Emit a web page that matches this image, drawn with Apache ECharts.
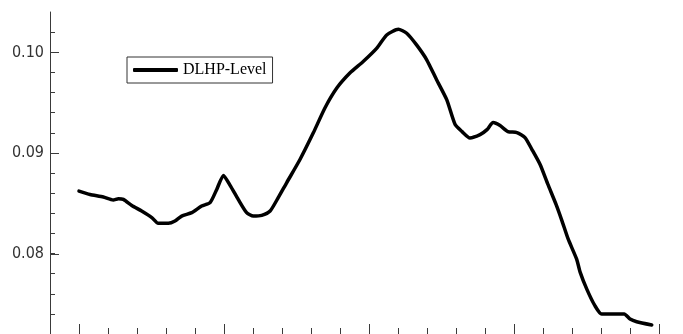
<!DOCTYPE html>
<html>
<head>
<meta charset="utf-8">
<style>
  html, body { margin: 0; padding: 0; background: #fff; }
  #chart { width: 683px; height: 334px; }
</style>
<script src="https://cdn.jsdelivr.net/npm/echarts@6/dist/echarts.min.js"></script>
</head>
<body>
<div id="chart"></div>
<script>
// Horizontal position (one unit per minor tick, major ticks every 5 units)
const xPos = [
  0, 0.38, 0.84, 1.18, 1.36, 1.53, 1.82, 2.16, 2.51, 2.73,
  3.08, 3.31, 3.54, 3.89, 4.23, 4.52, 4.75, 4.98, 5.21, 5.49,
  5.78, 6.01, 6.30, 6.59, 6.87, 7.16, 7.62, 8.08, 8.48, 8.89,
  9.34, 9.80, 10.27, 10.61, 11.01, 11.30, 11.64, 11.99, 12.33, 12.68,
  12.97, 13.20, 13.48, 13.83, 14.07, 14.28, 14.52, 14.79, 15.10, 15.38,
  15.62, 15.90, 16.17, 16.45, 16.66, 16.87, 17.16, 17.28, 17.51, 17.79,
  18.02, 18.80, 19.00, 19.23, 19.75
];

// DLHP level
const dlhpLevel = [
  0.08620, 0.08587, 0.08561, 0.08531, 0.08545, 0.08538, 0.08478, 0.08422, 0.08357, 0.08300,
  0.08300, 0.08323, 0.08372, 0.08406, 0.08472, 0.08505, 0.08637, 0.08776, 0.08677, 0.08538,
  0.08406, 0.08372, 0.08379, 0.08422, 0.08555, 0.08703, 0.08934, 0.09199, 0.09446, 0.09644,
  0.09793, 0.09908, 0.10041, 0.10172, 0.10229, 0.10189, 0.10073, 0.09925, 0.09727, 0.09529,
  0.09281, 0.09214, 0.09149, 0.09182, 0.09231, 0.09301, 0.09271, 0.09212, 0.09202, 0.09152,
  0.09033, 0.08884, 0.08686, 0.08488, 0.08320, 0.08142, 0.07944, 0.07815, 0.07646, 0.07481,
  0.07399, 0.07399, 0.07349, 0.07322, 0.07290
];

const seriesName = 'DLHP-Level';
const yLabelValues = [0.08, 0.09, 0.10];

const axisColor = '#3a3a3a';
const labelFont = "'DejaVu Sans Condensed', 'Liberation Sans Narrow', 'DejaVu Sans', sans-serif";

// plot frame geometry
const plotLeft = 50, plotTop = 12, plotWidth = 609, plotHeight = 323;
const yMin = 0.072, yMax = 0.104;
const pxPerUnit = plotHeight / (yMax - yMin);

const chart = echarts.init(document.getElementById('chart'), null, { renderer: 'canvas' });

const hiddenAxis = (gridIndex) => ({
  gridIndex, type: 'value', show: false, min: 0, max: 1,
  splitLine: { show: false }
});

const option = {
  animation: false,
  backgroundColor: '#ffffff',
  grid: [
    // main plot area
    { left: plotLeft, top: plotTop, width: plotWidth, height: plotHeight },
    // major x ticks
    { left: plotLeft + plotWidth / 21, top: plotTop, width: plotWidth * 20 / 21, height: plotHeight },
    // minor y ticks
    { left: plotLeft, top: plotTop + (yMax - 0.102) * pxPerUnit, width: plotWidth,
      height: (0.102 - yMin) * pxPerUnit },
    // major y ticks and labels
    { left: plotLeft, top: plotTop + (yMax - 0.10) * pxPerUnit, width: plotWidth,
      height: 0.02 * pxPerUnit }
  ],
  xAxis: [
    {
      gridIndex: 0, type: 'value', min: -1, max: 20, interval: 1, position: 'bottom',
      axisLine: { show: true, onZero: false, lineStyle: { color: axisColor, width: 1 } },
      axisTick: { show: true, inside: true, length: 6, lineStyle: { color: axisColor } },
      axisLabel: { show: false },
      splitLine: { show: false }
    },
    {
      gridIndex: 1, type: 'value', min: 0, max: 20, interval: 5, position: 'bottom',
      axisLine: { show: false, onZero: false },
      axisTick: { show: true, inside: true, length: 10, lineStyle: { color: axisColor } },
      axisLabel: { show: false },
      splitLine: { show: false }
    },
    hiddenAxis(2),
    hiddenAxis(3)
  ],
  yAxis: [
    {
      gridIndex: 0, type: 'value', min: yMin, max: yMax,
      axisLine: { show: true, onZero: false, lineStyle: { color: axisColor, width: 1 } },
      axisTick: { show: false },
      axisLabel: { show: false },
      splitLine: { show: false }
    },
    hiddenAxis(1),
    {
      gridIndex: 2, type: 'value', min: yMin, max: 0.102, interval: 0.002,
      axisLine: { show: false, onZero: false },
      axisTick: { show: true, inside: true, length: 5, lineStyle: { color: axisColor } },
      axisLabel: { show: false },
      splitLine: { show: false }
    },
    {
      gridIndex: 3, type: 'value', min: yLabelValues[0], max: yLabelValues[yLabelValues.length - 1],
      interval: 0.01,
      axisLine: { show: false, onZero: false },
      axisTick: { show: true, inside: true, length: 9, lineStyle: { color: axisColor } },
      axisLabel: {
        show: true, margin: 6, color: '#333',
        fontFamily: labelFont, fontSize: 16,
        formatter: (v) => v.toFixed(2)
      },
      splitLine: { show: false }
    }
  ],
  legend: {
    show: true,
    left: 127, top: 57,
    orient: 'horizontal',
    icon: 'roundRect',
    itemWidth: 45, itemHeight: 4,
    padding: [5, 6, 5, 6],
    borderColor: '#333', borderWidth: 1, borderRadius: 0,
    backgroundColor: '#fff',
    textStyle: { fontFamily: "'Liberation Serif', 'Times New Roman', serif", fontSize: 16, color: '#000' },
    data: [seriesName]
  },
  series: [
    {
      name: seriesName,
      type: 'line',
      xAxisIndex: 0, yAxisIndex: 0,
      data: xPos.map((x, i) => [x, dlhpLevel[i]]),
      showSymbol: false,
      smooth: 0.2,
      clip: false,
      lineStyle: { color: '#000', width: 3.5, cap: 'round', join: 'round' },
      itemStyle: { color: '#000' }
    }
  ]
};

chart.setOption(option);
</script>
</body>
</html>
